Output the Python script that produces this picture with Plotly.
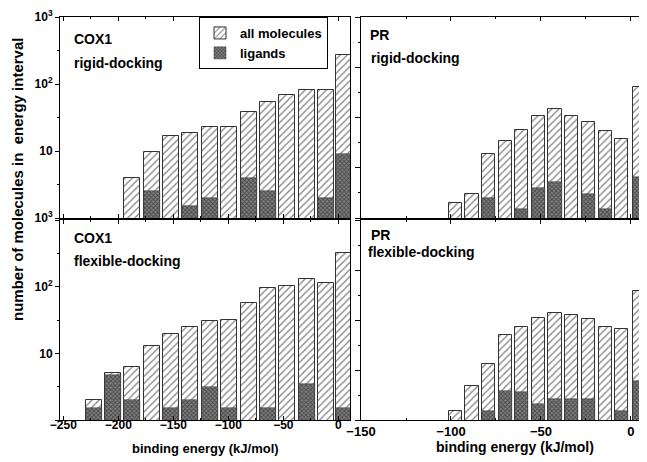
import plotly.graph_objects as go

# ---------------- data ----------------
cox_x = [-187.6, -169.4, -151.8, -134.5, -116.7, -99.4, -81.5, -63.9, -46.4, -28.5, -10.9, 5.0]
cox_rigid_all = [3.9, 9.5, 16.7, 18.6, 23, 23, 38, 54, 67.5, 81, 81, 275]
cox_rigid_lig = [None, 2.5, None, 1.5, 2.0, None, 4.0, 2.5, None, None, 2.0, 9.1]

cox_flex_x = [-222.4, -205.2] + cox_x
cox_flex_all = [2.0, 5.1, 6.2, 13, 19.6, 24.5, 31, 31.7, 56, 96.7, 101, 129, 112, 322]
cox_flex_lig = [1.5, 4.7, 2.0, None, 1.5, 2.0, 3.15, 1.5, None, 1.5, None, 3.5, None, 1.5]

pr_x = [-97.6, -88.3, -79.0, -69.7, -60.8, -51.5, -42.2, -32.9, -23.6, -14.3, -5.2, 4.6]
pr_rigid_all = [1.68, 2.29, 8.9, 14.1, 20.9, 33, 42.6, 33.8, 27.5, 20.2, 15.3, 89]
pr_rigid_lig = [None, None, 2.0, None, 1.36, 2.8, 3.4, None, 2.3, 1.36, None, 4.07]
pr_flex_all = [1.37, 3.2, 7.0, 18.7, 25, 34, 40, 38, 33, 24.5, 23, 87]
pr_flex_lig = [None, None, 1.37, 2.7, 2.6, 1.73, 2.08, 2.08, 2.08, None, 1.37, 3.8]

cox_ticks = [-250, -200, -150, -100, -50, 0]
pr_ticks = [-150, -100, -50, 0]
y_vals = [1, 10, 100, 1000]
y_text_top = ["10<sup>3</sup>", "10", "10<sup>2</sup>", "10<sup>3</sup>"]
y_text_bot = ["", "10", "10<sup>2</sup>", ""]

FONT = "Liberation Sans, Arial, sans-serif"

ALL_MARK = dict(color="white",
                pattern=dict(shape="/", fgcolor="#111", bgcolor="white", size=5, solidity=0.28),
                line=dict(color="#333", width=1))
LIG_MARK = dict(color="#444",
                pattern=dict(shape="x", fgcolor="#111", bgcolor="#808080", size=3, solidity=0.5),
                line=dict(color="#333", width=0.5))

fig = go.Figure()

panels = [
    ("x", "y", cox_x, cox_rigid_all, cox_rigid_lig, 14.5, True),
    ("x2", "y2", pr_x, pr_rigid_all, pr_rigid_lig, 7.4, False),
    ("x3", "y3", cox_flex_x, cox_flex_all, cox_flex_lig, 14.5, False),
    ("x4", "y4", pr_x, pr_flex_all, pr_flex_lig, 7.4, False),
]
for xa, ya, xs, alls, ligs, w, leg in panels:
    fig.add_trace(go.Bar(x=xs, y=alls, width=w, marker=ALL_MARK, name="all molecules",
                         showlegend=leg, xaxis=xa, yaxis=ya, cliponaxis=True))
    fig.add_trace(go.Bar(x=xs, y=ligs, width=w, marker=LIG_MARK, name="ligands",
                         showlegend=leg, xaxis=xa, yaxis=ya, cliponaxis=True))

# page has an 8px body margin: the figure is drawn at (8, 8)
OFF = 8
W, H = 647 - OFF, 462 - OFF


def X(px):
    return (px - OFF) / W


def Y(py):
    return 1 - (py - OFF) / H


xl = [X(60), X(350)]
xr = [X(361), 1.0]
yt = [Y(218), Y(17)]
yb = [Y(420), Y(220)]

tickfont = dict(family=FONT, size=12, color="black", weight="bold")


def xaxis(dom, rng, ticks, anchor, labels, size=12, standoff=0):
    return dict(domain=dom, range=rng, anchor=anchor, tickvals=ticks, automargin=False,
                showticklabels=labels, ticks="inside", ticklen=4, tickcolor="black",
                ticklabelstandoff=standoff,
                minor=dict(dtick=25, ticks="inside", ticklen=2, tickcolor="black"),
                showline=True, linecolor="black", linewidth=1, mirror="ticks",
                showgrid=False, zeroline=False,
                tickfont=dict(family=FONT, size=size, color="black", weight="bold"))


def yaxis_left(dom, anchor, text):
    return dict(domain=dom, type="log", range=[0, 3], anchor=anchor, automargin=False,
                tickvals=y_vals, ticktext=text, ticks="outside", ticklen=4,
                tickcolor="black",
                minor=dict(tickvals=[10 ** 0.5, 10 ** 1.5, 10 ** 2.5], ticks="outside",
                           ticklen=2, tickcolor="black"),
                showline=True, linecolor="black", linewidth=1, mirror=True,
                showgrid=False, zeroline=False, tickfont=tickfont)


def yaxis_right(dom, anchor):
    return dict(domain=dom, type="log", range=[0, 3], anchor=anchor, automargin=False,
                tickvals=[10 ** v for v in [0, 0.75, 1.5, 2.25, 3]],
                showticklabels=False, ticks="outside", ticklen=5, tickcolor="black",
                minor=dict(tickvals=[10 ** v for v in [0.375, 1.125, 1.875, 2.625]],
                           ticks="outside", ticklen=2, tickcolor="black"),
                showline=True, linecolor="black", linewidth=1, mirror=True,
                showgrid=False, zeroline=False)


fig.update_layout(
    width=W, height=H,
    margin=dict(l=0, r=0, t=0, b=0, autoexpand=False),
    paper_bgcolor="white", plot_bgcolor="white",
    barmode="overlay", bargap=0,
    font=dict(family=FONT, color="black"),
    xaxis=xaxis(xl, [-253, 10.6], cox_ticks, "y", False),
    xaxis2=xaxis(xr, [-150, 8.9], pr_ticks, "y2", False),
    xaxis3=xaxis(xl, [-253, 10.6], cox_ticks, "y3", True, 12, -6),
    xaxis4=xaxis(xr, [-150, 8.9], pr_ticks, "y4", True, 13, -1),
    yaxis=yaxis_left(yt, "x", y_text_top),
    yaxis2=yaxis_right(yt, "x2"),
    yaxis3=yaxis_left(yb, "x3", y_text_bot),
    yaxis4=yaxis_right(yb, "x4"),
    legend=dict(x=X(199), y=Y(17), xanchor="left", yanchor="top",
                bordercolor="black", borderwidth=1, bgcolor="white",
                font=dict(family=FONT, size=13, color="black", weight="bold"),
                tracegroupgap=0, itemwidth=30),
)

ann = []


def label(text, x, y, size=14):
    ann.append(dict(text="<b>" + text + "</b>", x=X(x), y=Y(y), xref="paper", yref="paper",
                    xanchor="left", yanchor="middle", showarrow=False,
                    font=dict(family=FONT, size=size, color="black")))


label("COX1", 72, 39)
label("rigid-docking", 72, 63)
label("COX1", 72, 238)
label("flexible-docking", 72, 261)
label("PR", 368, 35)
label("rigid-docking", 369, 58)
label("PR", 369, 235)
label("flexible-docking", 366, 252)

ann.append(dict(text="<b>binding energy (kJ/mol)</b>", x=X(206), y=Y(448), xref="paper",
                yref="paper", xanchor="center", yanchor="middle", showarrow=False,
                font=dict(family=FONT, size=13, color="black")))
ann.append(dict(text="<b>binding energy (kJ/mol)</b>", x=X(515), y=Y(447), xref="paper",
                yref="paper", xanchor="center", yanchor="middle", showarrow=False,
                font=dict(family=FONT, size=14, color="black")))
ann.append(dict(text="<b>number of molecules in&nbsp; energy interval</b>", x=X(17), y=Y(180),
                xref="paper", yref="paper", xanchor="center", yanchor="middle", showarrow=False,
                textangle=-90, font=dict(family=FONT, size=15, color="black")))
fig.update_layout(annotations=ann)

fig.write_html("out.html")
